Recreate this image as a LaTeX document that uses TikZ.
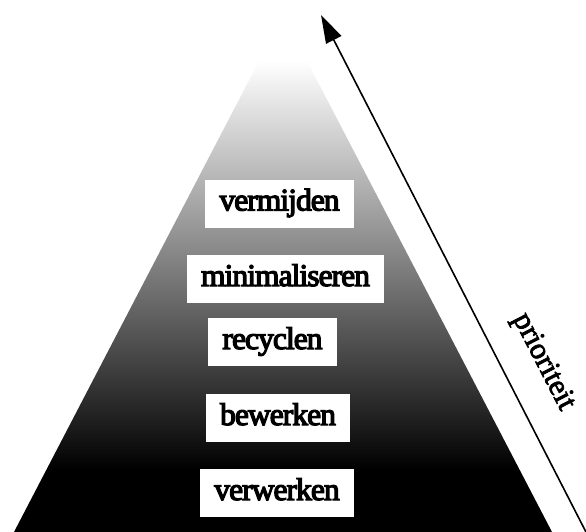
\documentclass[tikz,border=0pt]{standalone}
\usepackage{fontspec}
\setmainfont{Liberation Serif}[FakeBold=2.5]
\newfontfamily\levelfont{Liberation Serif}[FakeBold=4, LetterSpace=-3]
\usetikzlibrary{arrows.meta}

% vertical grey ramp: black at the base, white near the apex
\pgfdeclareverticalshading{pyramidramp}{100bp}{%
  color(0bp)=(black); color(31bp)=(black);
  color(70.6bp)=(white); color(100bp)=(white)}

\begin{document}
\begin{tikzpicture}[x=1pt,y=-1pt,
    level/.style={fill=white, inner xsep=14pt, inner ysep=9pt,
      text height=22pt, text depth=8pt,
      font=\levelfont\fontsize{31.5}{36}\selectfont},
    prio/.style={font=\fontsize{30}{36}\selectfont}]
  \useasboundingbox (0,0) rectangle (586,532);

  % the pyramid
  \coordinate (apex) at (283,15);
  \coordinate (baseL) at (14,532);
  \coordinate (baseR) at (552,532);
  \shade[shading=pyramidramp] (apex) -- (baseL) -- (baseR) -- cycle;

  % levels of the hierarchy
  \node[level] (vermijden)     at (279.5,203.5) {vermijden};
  \node[level] (minimaliseren) at (285.5,279)   {minimaliseren};
  \node[level] (recyclen)      at (272.5,342)   {recyclen};
  \node[level] (bewerken)      at (278,418)     {bewerken};
  \node[level] (verwerken)     at (277,493)     {verwerken};

  % priority arrow along the right flank
  \coordinate (arrowfoot) at (588,536);
  \coordinate (arrowtip)  at (321,15);
  \draw[line width=1.6pt, -{Triangle[length=28pt,width=17pt]}]
    (arrowfoot) -- (arrowtip);
  \node[prio, rotate=-62.7] (prioriteit) at (543,362) {prioriteit};
\end{tikzpicture}
\end{document}
